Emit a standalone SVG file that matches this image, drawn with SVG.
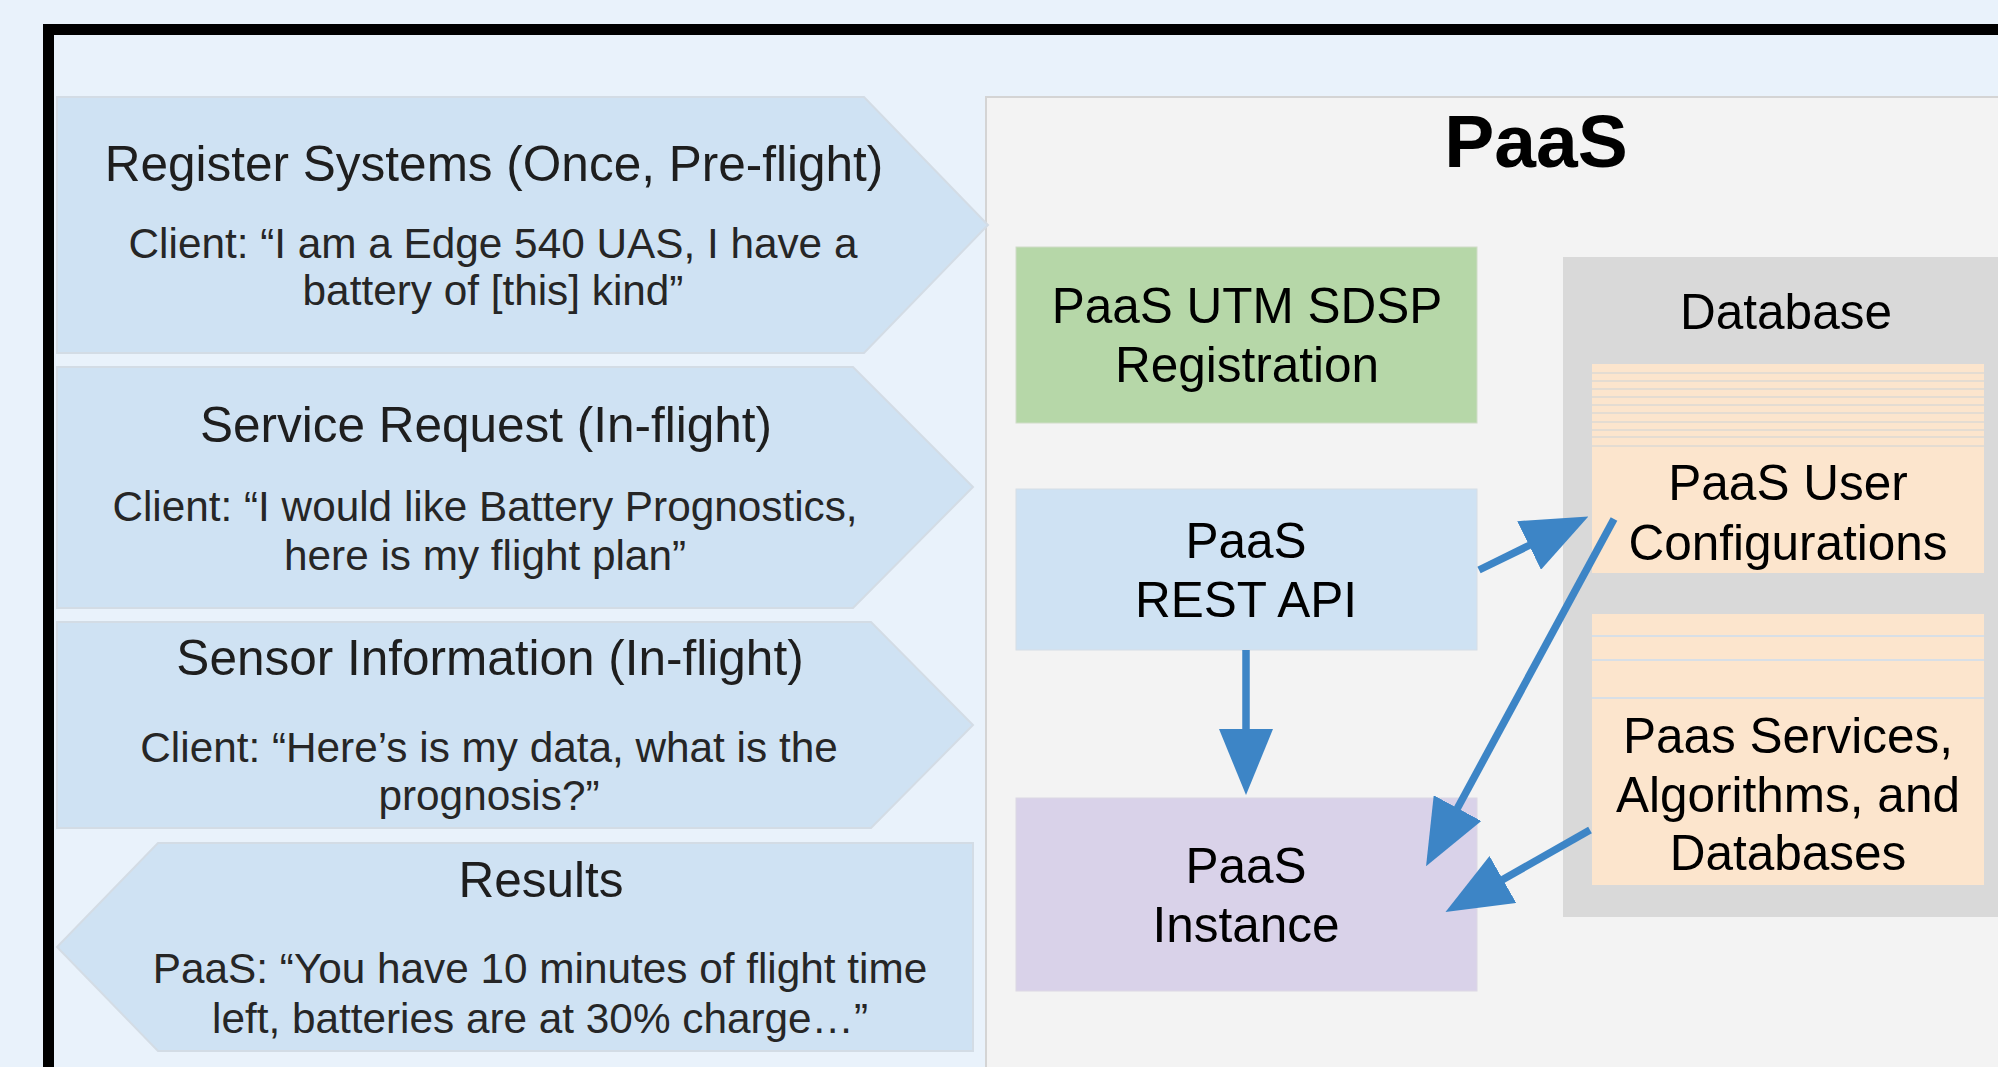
<svg xmlns="http://www.w3.org/2000/svg" width="1998" height="1067" viewBox="0 0 1998 1067">
  <defs>
    <style>
      .bg { fill: #E9F2FB; }
      .frame { fill: #E9F2FB; stroke: #000; stroke-width: 11; }
      .panel { fill: #F3F3F3; stroke: #D4D4D4; stroke-width: 2; }
      .step { fill: #CFE2F3; stroke: #D3DCE5; stroke-width: 2; }
      .ttl { font-family: "Liberation Sans", Arial, sans-serif; font-size: 49.5px; fill: #1E1E1E; text-anchor: middle; }
      .sub { font-family: "Liberation Sans", Arial, sans-serif; font-size: 42.3px; fill: #262626; text-anchor: middle; }
      .lbl { font-family: "Liberation Sans", Arial, sans-serif; font-size: 49.5px; fill: #000; text-anchor: middle; }
      .head { font-family: "Liberation Sans", Arial, sans-serif; font-size: 75px; font-weight: bold; fill: #000; text-anchor: middle; }
      .stripe { stroke: #E4DCD2; stroke-width: 2; }
      .stripe2 { stroke: #D8DFE6; stroke-width: 2; }
      .conn { stroke: #3D85C6; stroke-width: 7.5; fill: none; marker-end: url(#arrow); }
    </style>
    <marker id="arrow" markerUnits="userSpaceOnUse" markerWidth="66" markerHeight="54" viewBox="0 0 66 54" refX="1" refY="27" orient="auto">
      <path d="M0,0 L66,27 L0,54 Z" fill="#3D85C6"/>
    </marker>
  </defs>

  <rect class="bg" x="0" y="0" width="1998" height="1067"/>
  <rect class="frame" x="48.5" y="29.5" width="2100" height="1100"/>

  <g id="paas-panel">
    <rect class="panel" x="986" y="97" width="1100" height="1100"/>
    <text class="head" x="1536" y="167">PaaS</text>
  </g>

  <g id="step-register">
    <polygon class="step" points="57,97 864,97 988,225 864,353 57,353"/>
    <text class="ttl" x="494" y="181">Register Systems (Once, Pre-flight)</text>
    <text class="sub" x="493" y="258">Client: “I am a Edge 540 UAS, I have a</text>
    <text class="sub" x="493" y="305">battery of [this] kind”</text>
  </g>

  <g id="step-service">
    <polygon class="step" points="57,367 853,367 973,487 853,608 57,608"/>
    <text class="ttl" x="486" y="442">Service Request (In-flight)</text>
    <text class="sub" x="485" y="521">Client: “I would like Battery Prognostics,</text>
    <text class="sub" x="485" y="570">here is my flight plan”</text>
  </g>

  <g id="step-sensor">
    <polygon class="step" points="57,622 871,622 973,725 871,828 57,828"/>
    <text class="ttl" x="490" y="675">Sensor Information (In-flight)</text>
    <text class="sub" x="489" y="762">Client: “Here’s is my data, what is the</text>
    <text class="sub" x="489" y="810">prognosis?”</text>
  </g>

  <g id="step-results">
    <polygon class="step" points="973,843 973,1051 158,1051 57,947 158,843"/>
    <text class="ttl" x="541" y="897">Results</text>
    <text class="sub" x="540" y="983">PaaS: “You have 10 minutes of flight time</text>
    <text class="sub" x="540" y="1033">left, batteries are at 30% charge…”</text>
  </g>

  <g id="registration">
    <rect x="1016" y="247" width="461" height="176" fill="#B6D7A8" stroke="#D0DCC8" stroke-width="1"/>
    <text class="lbl" x="1247" y="323">PaaS UTM SDSP</text>
    <text class="lbl" x="1247" y="382">Registration</text>
  </g>

  <g id="rest-api">
    <rect x="1016" y="489" width="461" height="161" fill="#CFE2F3" stroke="#D6DEE6" stroke-width="1"/>
    <text class="lbl" x="1246" y="558">PaaS</text>
    <text class="lbl" x="1246" y="617">REST API</text>
  </g>

  <g id="instance">
    <rect x="1016" y="798" width="461" height="193" fill="#D9D2E9" stroke="#DCD8E4" stroke-width="1"/>
    <text class="lbl" x="1246" y="883">PaaS</text>
    <text class="lbl" x="1246" y="942">Instance</text>
  </g>

  <g id="database">
    <rect x="1563" y="257" width="500" height="660" fill="#D9D9D9"/>
    <text class="lbl" x="1786" y="329">Database</text>
  </g>

  <g id="user-config">
    <rect x="1592" y="364" width="392" height="209" fill="#FCE5CD"/>
    <line class="stripe" x1="1592" y1="373" x2="1984" y2="373"/>
    <line class="stripe" x1="1592" y1="381" x2="1984" y2="381"/>
    <line class="stripe" x1="1592" y1="389" x2="1984" y2="389"/>
    <line class="stripe" x1="1592" y1="397" x2="1984" y2="397"/>
    <line class="stripe" x1="1592" y1="405" x2="1984" y2="405"/>
    <line class="stripe" x1="1592" y1="413" x2="1984" y2="413"/>
    <line class="stripe" x1="1592" y1="422" x2="1984" y2="422"/>
    <line class="stripe" x1="1592" y1="430" x2="1984" y2="430"/>
    <line class="stripe" x1="1592" y1="437" x2="1984" y2="437"/>
    <line class="stripe" x1="1592" y1="446" x2="1984" y2="446"/>
    <text class="lbl" x="1788" y="500">PaaS User</text>
    <text class="lbl" x="1788" y="560">Configurations</text>
  </g>

  <g id="services">
    <rect x="1592" y="614" width="392" height="271" fill="#FCE5CD"/>
    <line class="stripe2" x1="1592" y1="636" x2="1984" y2="636"/>
    <line class="stripe2" x1="1592" y1="660" x2="1984" y2="660"/>
    <line class="stripe2" x1="1592" y1="698" x2="1984" y2="698"/>
    <text class="lbl" x="1788" y="753">Paas Services,</text>
    <text class="lbl" x="1788" y="812">Algorithms, and</text>
    <text class="lbl" x="1788" y="870">Databases</text>
  </g>

  <g id="connectors">
    <line class="conn" x1="1479" y1="570" x2="1530" y2="545"/>
    <line class="conn" x1="1246" y1="650" x2="1246" y2="730"/>
    <line class="conn" x1="1614" y1="519" x2="1457" y2="809"/>
    <line class="conn" x1="1590" y1="830" x2="1502" y2="880"/>
  </g>
</svg>
